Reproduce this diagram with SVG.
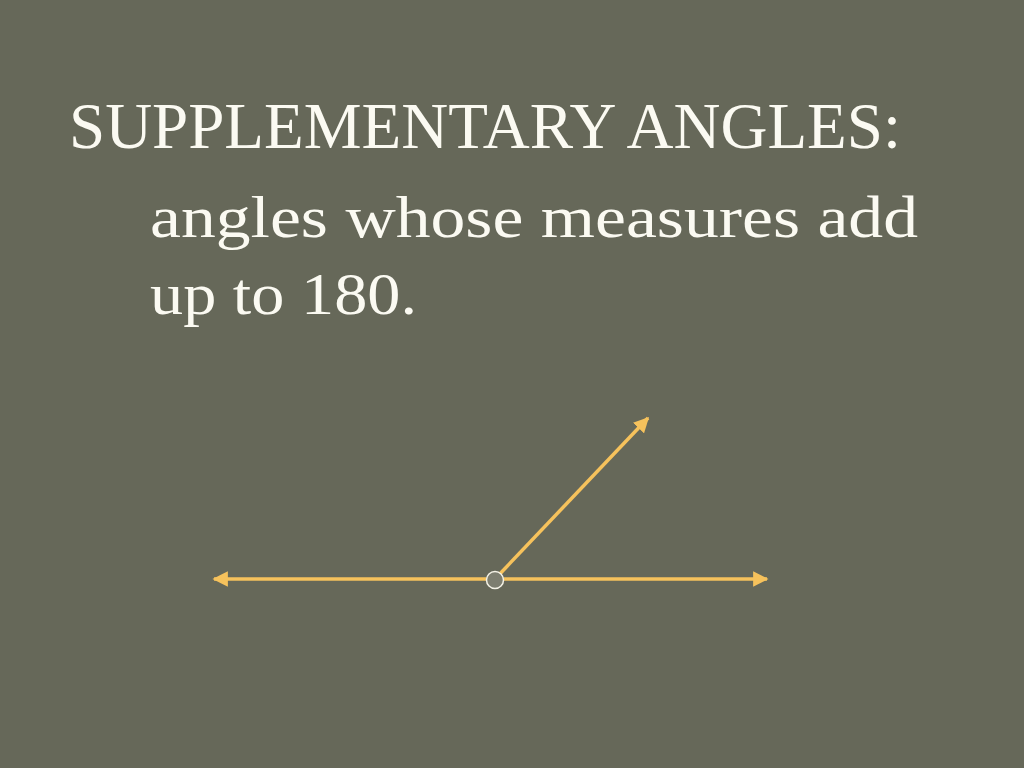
<svg xmlns="http://www.w3.org/2000/svg" width="1024" height="768" viewBox="0 0 1024 768">
<style>
.t{font-family:"Liberation Serif","DejaVu Serif",serif;fill:#fbfaf2}
.ray{stroke:#f6c25c;stroke-width:3.5;fill:none}
</style>
<defs>
<marker id="ah" viewBox="0 0 10 10" refX="9" refY="5" markerWidth="4.4" markerHeight="4.4" markerUnits="strokeWidth" orient="auto-start-reverse">
<path d="M0,0 L10,5 L0,10 Z" fill="#f6c25c"/>
</marker>
</defs>
<rect width="1024" height="768" fill="#666859"/>
<g id="title">
<text class="t" x="69" y="148" font-size="65" textLength="832" lengthAdjust="spacingAndGlyphs">SUPPLEMENTARY ANGLES:</text>
</g>
<g id="definition">
<text class="t" x="150" y="237" font-size="59" textLength="768" lengthAdjust="spacingAndGlyphs">angles whose measures add</text>
<text class="t" x="150" y="314" font-size="59" textLength="267" lengthAdjust="spacingAndGlyphs">up to 180.</text>
</g>
<g id="connectors">
<line class="ray" x1="495" y1="579" x2="214" y2="579" marker-end="url(#ah)"/>
<line class="ray" x1="495" y1="579" x2="767" y2="579" marker-end="url(#ah)"/>
<line class="ray" x1="495" y1="579" x2="648" y2="418" marker-end="url(#ah)"/>
</g>
<g id="vertex">
<circle cx="495" cy="580" r="8.5" fill="#7d7e70" stroke="#f4f2e6" stroke-width="1.5"/>
</g>
</svg>
